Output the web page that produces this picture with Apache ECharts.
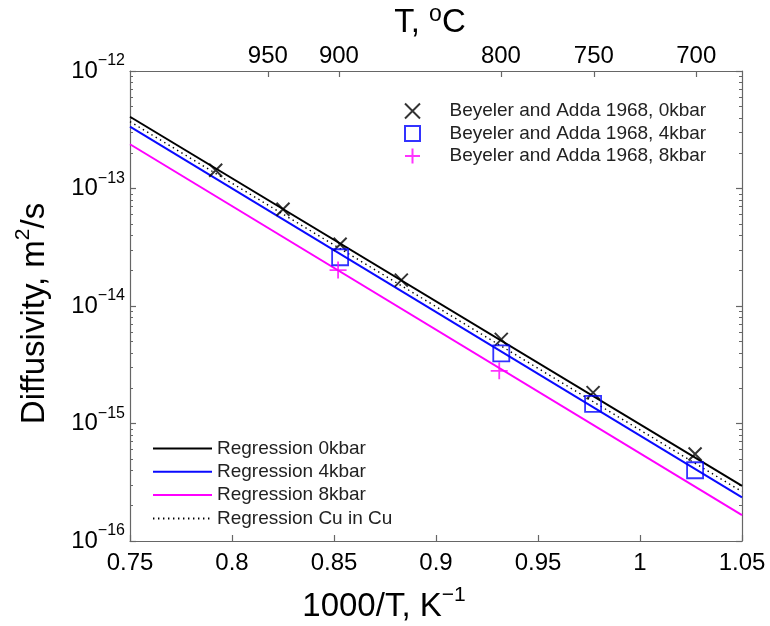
<!DOCTYPE html>
<html><head><meta charset="utf-8">
<script src="https://cdn.jsdelivr.net/npm/echarts@6/dist/echarts.min.js"></script>
<style>html,body{margin:0;padding:0;background:#fff}#c{width:770px;height:626px}</style>
</head><body><div id="c"></div>
<script>
// ---- data ----
const xObs = [0.792, 0.825, 0.853, 0.883, 0.932, 0.977, 1.027];      // 1000/T, K^-1
const d0kbar = [1.43e-13, 6.65e-14, 3.35e-14, 1.66e-14, 5.2e-15, 1.83e-15, 5.5e-16];
const x4kbar = [0.853, 0.932, 0.977, 1.027];
const d4kbar = [2.6e-14, 3.95e-15, 1.47e-15, 4.0e-16];
const x8kbar = [0.852, 0.931];
const d8kbar = [2.02e-14, 2.81e-15];
const xFit = [0.75, 1.05];
const fit0kbar = [4.08e-13, 2.94e-16];
const fit4kbar = [3.36e-13, 2.35e-16];
const fit8kbar = [2.38e-13, 1.66e-16];
const fitCuInCu = [3.71e-13, 2.63e-16];
const topTemps = [950, 900, 800, 750, 700];            // T, °C tick labels
const yDecades = [-16, -15, -14, -13, -12];
const minorMult = [2, 3, 4, 5, 6, 7, 8, 9];

const names = {
  s0: 'Beyeler and Adda 1968, 0kbar', s4: 'Beyeler and Adda 1968, 4kbar', s8: 'Beyeler and Adda 1968, 8kbar',
  r0: 'Regression 0kbar', r4: 'Regression 4kbar', r8: 'Regression 8kbar', rc: 'Regression Cu in Cu'
};

const FONT = 'Liberation Sans';
const AX = '#666';
const topPos = topTemps.map(t => 1000 / (t + 273.15));
const minorPos = [];
for (let d = -16; d < -12; d++) minorMult.forEach(m => minorPos.push(d + Math.log10(m)));
const zip = (xs, ys) => xs.map((x, i) => [x, ys[i]]);

const CROSS = 'path://M0,0 L10,10 M10,0 L0,10';
const PLUS = 'path://M5,0 L5,10 M0,5 L10,5';
const SQUARE = 'path://M0,0 L10,0 L10,10 L0,10 Z';

const chart = echarts.init(document.getElementById('c'), null, {renderer: 'canvas'});
const lineAxisStyle = {show: true, lineStyle: {color: AX, width: 1.2}};
chart.setOption({
  animation: false,
  backgroundColor: '#fff',
  textStyle: {fontFamily: FONT},
  grid: {left: 130, right: 28, top: 71, bottom: 85, containLabel: false, outerBoundsMode: 'none'},
  xAxis: [
    {
      type: 'value', position: 'bottom', min: 0.75, max: 1.05, interval: 0.05,
      axisLine: lineAxisStyle,
      axisTick: {inside: true, length: 6, lineStyle: {color: AX, width: 1.2}},
      splitLine: {show: false},
      axisLabel: {color: '#000', fontSize: 24, fontFamily: FONT, margin: 10,
        formatter: v => parseFloat(v.toFixed(2)).toString()},
      name: '{m|1000/T, K}{s|\u22121}', nameLocation: 'middle', nameGap: 44,
      nameTextStyle: {padding: [0, 104, 0, 0], rich: {
        m: {fontSize: 33, fontFamily: FONT, color: '#000'},
        s: {fontSize: 21, fontFamily: FONT, color: '#000', padding: [0, 0, 23, 0]}}}
    },
    {
      type: 'value', position: 'top', min: 0.75, max: 1.05,
      axisLine: lineAxisStyle,
      axisTick: {inside: true, length: 6, customValues: topPos, lineStyle: {color: AX, width: 1.2}},
      splitLine: {show: false},
      axisLabel: {color: '#000', fontSize: 24, fontFamily: FONT, margin: 3, customValues: topPos,
        formatter: v => {
          let bi = 0;
          topPos.forEach((p, i) => { if (Math.abs(p - v) < Math.abs(topPos[bi] - v)) bi = i; });
          return String(topTemps[bi]);
        }},
      name: '{m|T, }{s|o}{m|C}', nameLocation: 'middle', nameGap: 27,
      nameTextStyle: {padding: [0, 12, 0, 0], rich: {
        m: {fontSize: 33, fontFamily: FONT, color: '#000'},
        s: {fontSize: 23, fontFamily: FONT, color: '#000', padding: [0, 0, 15, 0]}}}
    }
  ],
  yAxis: [
    {
      type: 'log', logBase: 10, min: 1e-16, max: 1e-12, position: 'left',
      axisLine: lineAxisStyle,
      axisTick: {inside: true, length: 6, lineStyle: {color: AX, width: 1.2}},
      minorTick: {show: false},
      splitLine: {show: false},
      axisLabel: {margin: 5, formatter: v => '{b|10}{s|\u2212' + (-Math.round(Math.log10(v))) + '}',
        rich: {b: {fontSize: 24, fontFamily: FONT, color: '#000'},
               s: {fontSize: 16, fontFamily: FONT, color: '#000', padding: [0, 0, 20, 0]}}},
      name: '{m|Diffusivity, m}{s|2}{m|/s}', nameLocation: 'middle', nameGap: 73,
      nameTextStyle: {padding: [0, 15, 0, 0], rich: {
        m: {fontSize: 33, fontFamily: FONT, color: '#000'},
        s: {fontSize: 21, fontFamily: FONT, color: '#000', padding: [0, 0, 23, 0]}}}
    },
    {
      type: 'value', min: -16, max: -12, position: 'left', offset: 0,
      axisLine: {show: false}, axisLabel: {show: false}, splitLine: {show: false},
      axisTick: {inside: true, length: 3, customValues: minorPos, lineStyle: {color: AX, width: 1}}
    },
    {
      type: 'value', min: -16, max: -12, position: 'right', offset: 0,
      axisLine: lineAxisStyle, axisLabel: {show: false}, splitLine: {show: false},
      axisTick: {inside: true, length: 6, customValues: yDecades, lineStyle: {color: AX, width: 1.2}}
    },
    {
      type: 'value', min: -16, max: -12, position: 'right', offset: 0,
      axisLine: {show: false}, axisLabel: {show: false}, splitLine: {show: false},
      axisTick: {inside: true, length: 3, customValues: minorPos, lineStyle: {color: AX, width: 1}}
    }
  ],
  legend: [
    {
      data: [names.s0, names.s4, names.s8], orient: 'vertical', left: 399, top: 96.5,
      itemWidth: 64, itemHeight: 15, itemGap: 3.5, selectedMode: false, symbolKeepAspect: true,
      textStyle: {fontSize: 19, fontFamily: FONT, color: '#222'}
    },
    {
      data: [names.r0, names.r4, names.r8, names.rc], orient: 'vertical', left: 147, top: 434,
      itemWidth: 59, itemHeight: 15, itemGap: 4.3, selectedMode: false,
      itemStyle: {opacity: 0},
      textStyle: {fontSize: 19, fontFamily: FONT, color: '#222'}
    }
  ],
  series: [
    {name: names.r0, type: 'line', data: zip(xFit, fit0kbar), symbol: 'none', lineStyle: {color: '#000', width: 2}, itemStyle: {color: '#000'}, z: 2},
    {name: names.r4, type: 'line', data: zip(xFit, fit4kbar), symbol: 'none', lineStyle: {color: '#0a0aff', width: 2}, itemStyle: {color: '#0a0aff'}, z: 2},
    {name: names.r8, type: 'line', data: zip(xFit, fit8kbar), symbol: 'none', lineStyle: {color: '#ff00ff', width: 2}, itemStyle: {color: '#ff00ff'}, z: 2},
    {name: names.rc, type: 'line', data: zip(xFit, fitCuInCu), symbol: 'none', lineStyle: {color: '#000', width: 1.4, type: [1.4, 3.6]}, itemStyle: {color: '#000'}, z: 2},
    {name: names.s0, type: 'scatter', data: zip(xObs, d0kbar), symbol: CROSS, symbolSize: 13,
      itemStyle: {color: 'rgba(0,0,0,0)', borderColor: '#000', borderWidth: 2}, z: 3},
    {name: names.s4, type: 'scatter', data: zip(x4kbar, d4kbar), symbol: SQUARE, symbolSize: 16,
      itemStyle: {color: 'rgba(0,0,0,0)', borderColor: '#0000ff', borderWidth: 1.8}, z: 3},
    {name: names.s8, type: 'scatter', data: zip(x8kbar, d8kbar), symbol: PLUS, symbolSize: 17,
      itemStyle: {color: 'rgba(0,0,0,0)', borderColor: '#ff00ff', borderWidth: 1.8}, z: 3}
  ]
});
</script>
</body></html>
